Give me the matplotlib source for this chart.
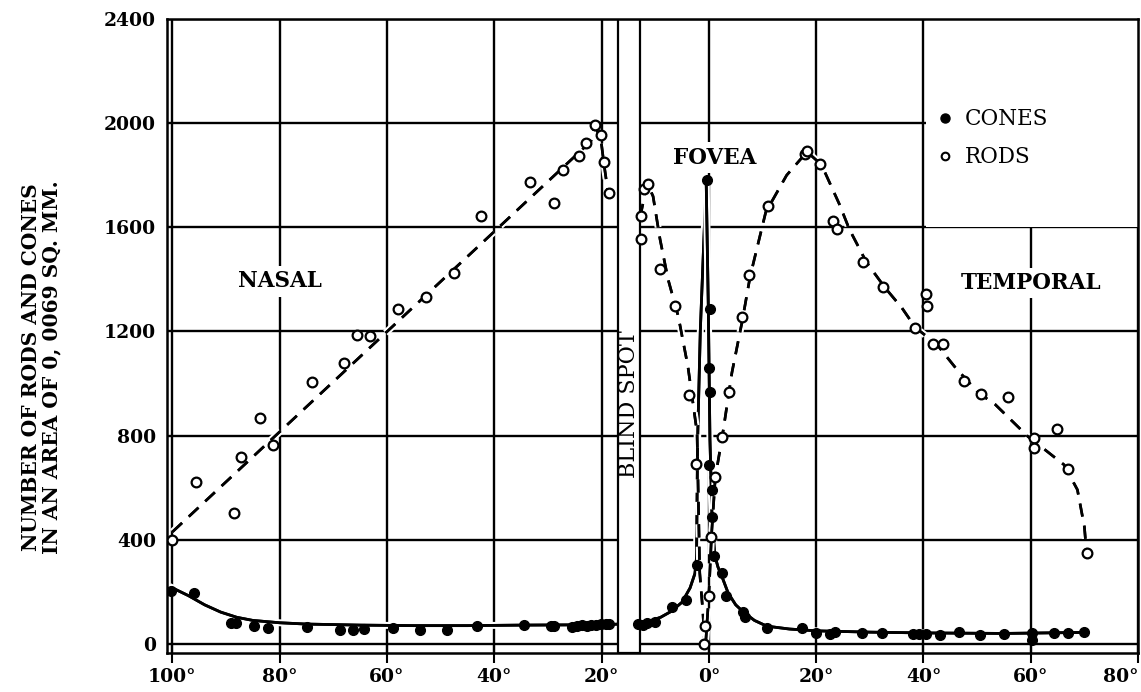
import matplotlib
matplotlib.use("Agg")
import matplotlib.pyplot as plt
import matplotlib.patheffects as pe
from matplotlib.lines import Line2D
from matplotlib.patches import Rectangle

plt.rcParams['font.family'] = ['DejaVu Serif']

# angle from fovea, nasal side negative (degrees)
cone_x = [-100.3, -96, -89, -88.2, -84.8, -82.2, -74.9, -68.8, -66.4, -64.2,
          -58.9, -53.8, -48.8, -43.3, -34.5, -29.5, -28.8, -25.5, -24.6, -23.7,
          -22.8, -21.9, -21, -20.1, -19.2, -18.6,
          -13.2, -12.3, -11.5, -10, -6.8, -4.2, -2.3,
          -0.4, 0.2, 0.0, 0.3, 0.1, 0.5, 0.6, 1.0, 2.4, 3.2, 6.4, 6.8, 10.8,
          17.4, 20, 22.6, 23.6, 28.5, 32.3, 38.1, 39.2, 40.4, 43, 46.6, 50.6,
          55.1, 60.2, 60.2, 64.3, 67, 70]
cone_y = [204, 196, 81, 81, 69, 62, 65, 54, 54, 58,
          62, 54, 54, 69, 73, 69, 69, 65, 70, 72,
          70, 73, 72, 75, 75, 77,
          78, 73, 80, 85, 140, 169, 302,
          1780, 1285, 1058, 969, 688, 592, 488, 338, 273, 185, 123, 104, 62,
          62, 42, 38, 46, 42, 42, 38, 38, 38, 35, 46, 35,
          38, 42, 15, 42, 42, 46]

rod_x = [-100, -95.6, -88.6, -87.3, -83.7, -81.3, -73.9, -68, -65.5, -63.1,
         -58, -52.8, -47.5, -42.4, -33.4, -28.8, -27.2, -24.2, -22.9, -21.3,
         -20.2, -19.6, -18.7,
         -12.1, -11.4, -12.7, -12.6, -9.2, -6.4, -3.7, -2.4, -0.7, -0.9,
         0.0, 0.4, 1.1, 2.5, 3.8, 6.2, 7.4, 11.0, 17.9, 18.3, 20.7, 23.2,
         23.9, 28.8, 32.5, 38.5, 40.4, 40.6, 41.7, 43.6, 47.5, 50.8, 55.8,
         60.6, 60.6, 64.9, 67, 70.4]
rod_y = [400, 620, 504, 719, 869, 762, 1004, 1077, 1185, 1181,
         1285, 1331, 1423, 1642, 1773, 1692, 1819, 1873, 1923, 1992,
         1954, 1850, 1731,
         1746, 1765, 1642, 1554, 1438, 1298, 954, 690, 69, 0,
         185, 412, 642, 796, 967, 1256, 1415, 1681, 1880, 1892, 1842, 1623,
         1592, 1465, 1369, 1213, 1342, 1296, 1150, 1150, 1008, 958, 950,
         792, 754, 827, 673, 350]

# fitted curves drawn through the points
cone_fit_left_x = [-100, -97, -94, -91, -88, -85, -80, -75, -65, -55, -45, -35,
                   -25, -18, -13.6, -11, -9, -7, -5, -3.5, -2.6, -2.3, -2.1,
                   -1.6, -0.5]
cone_fit_left_y = [215, 185, 150, 122, 102, 90, 81, 76, 72, 70, 70, 72,
                   73, 75, 78, 88, 102, 125, 160, 215, 270, 330, 780,
                   1200, 1780]
cone_fit_right_x = [-0.5, -0.1, 0.2, 0.6, 1.1, 1.7, 2.5, 3.6, 5, 6.4, 8.5,
                    10.8, 15, 20, 30, 40, 55, 70]
cone_fit_right_y = [1780, 1290, 785, 477, 340, 295, 255, 195, 150, 123, 90,
                    68, 57, 50, 45, 42, 40, 44]

rod_fit_nasal_x = [-100, -22, -21.3, -20.2, -19.6, -18.7]
rod_fit_nasal_y = [430, 1930, 1985, 1950, 1850, 1720]
rod_fit_left_x = [-12.8, -11.5, -10.4, -9.1, -7.6, -5.7, -3.9, -2.2, -1.7,
                  -1.1, -0.8]
rod_fit_left_y = [1640, 1770, 1719, 1554, 1400, 1258, 1065, 811, 273, 119, 0]
rod_fit_right_x = [-0.6, 0.0, 0.5, 1.2, 2.5, 4.3, 6.2, 7.7, 10.6, 14.5, 18.3,
                   21, 24.3, 26.2, 29.4, 32.8, 36, 38.5, 42.5, 45.8, 50.2,
                   53.4, 59.5, 63, 66.2, 68.7, 70, 70.4]
rod_fit_right_y = [0, 190, 420, 640, 796, 1042, 1238, 1412, 1658, 1800, 1890,
                   1840, 1690, 1592, 1465, 1369, 1290, 1215, 1150, 1065, 965,
                   919, 796, 740, 688, 592, 450, 350]

x_ticks = [-100, -80, -60, -40, -20, 0, 20, 40, 60, 80]
x_tick_labels = ['100°', '80°', '60°', '40°', '20°', '0°', '20°', '40°', '60°', '80°']
y_ticks = [0, 400, 800, 1200, 1600, 2000, 2400]
blind_spot = (-16.9, -12.9)

fig = plt.figure(figsize=(11.41, 6.92), dpi=100)
ax = fig.add_axes([0.1464, 0.0564, 0.851, 0.9161])

ax.set_xlim(-101, 80)
ax.set_ylim(-35, 2400)
ax.set_xticks(x_ticks)
ax.set_xticklabels(x_tick_labels)
ax.set_yticks(y_ticks)
ax.set_axisbelow(True)
ax.grid(True, color='black', lw=1.7)
for s in ax.spines.values():
    s.set_linewidth(1.8)
ax.tick_params(axis='x', direction='inout', length=14, width=1.5, labelsize=13.5, pad=4)
ax.tick_params(axis='y', length=0, labelsize=13.5, pad=8)
for lab in ax.get_xticklabels() + ax.get_yticklabels():
    lab.set_fontweight('bold')
ax.get_xticklabels()[-1].set_horizontalalignment('right')

cone_halo = [pe.withStroke(linewidth=5, foreground='white'), pe.Normal()]
rod_halo = [pe.withStroke(linewidth=5, foreground='white'), pe.Normal()]

# legend area blanks the grid
ax.add_patch(Rectangle((40.4, 1600), 39.6, 800, facecolor='white', edgecolor='none', zorder=1))

ax.plot(cone_fit_left_x, cone_fit_left_y, color='black', lw=2, zorder=2, path_effects=cone_halo)
ax.plot(cone_fit_right_x, cone_fit_right_y, color='black', lw=2, zorder=2, path_effects=cone_halo)
for fx, fy in [(rod_fit_nasal_x, rod_fit_nasal_y), (rod_fit_left_x, rod_fit_left_y),
               (rod_fit_right_x, rod_fit_right_y)]:
    ax.plot(fx, fy, color='black', lw=1.9, dashes=(5, 3.5), zorder=2.1, path_effects=rod_halo)

# blind spot band
ax.add_patch(Rectangle((blind_spot[0], -35), blind_spot[1] - blind_spot[0], 2435,
                       facecolor='white', edgecolor='black', lw=1.6, zorder=2.5))
ax.text(sum(blind_spot) / 2, 920, 'BLIND SPOT', rotation=90, ha='center', va='center',
        fontsize=16, zorder=2.6)

ax.plot(cone_x, cone_y, 'o', color='black', ms=7, zorder=3)
ax.plot(rod_x, rod_y, 'o', mfc='white', mec='black', mew=1.6, ms=7, zorder=3)

box = dict(facecolor='white', edgecolor='none', pad=3)
ax.text(-80, 1392, 'NASAL', ha='center', va='center', fontsize=15.5, fontweight='bold', bbox=box, zorder=2.5)
ax.text(60, 1385, 'TEMPORAL', ha='center', va='center', fontsize=15.5, fontweight='bold', bbox=box, zorder=2.5)
ax.text(1, 1868, 'FOVEA', ha='center', va='center', fontsize=15.5, fontweight='bold', bbox=box, zorder=2.5)

handles = [Line2D([], [], marker='o', color='black', ls='none', ms=6.5),
           Line2D([], [], marker='o', mfc='white', mec='black', mew=1.5, ls='none', ms=5.5)]
ax.legend(handles, ['CONES', 'RODS'], loc='upper left', bbox_to_anchor=(0.768, 0.89),
          frameon=False, fontsize=15.5, handletextpad=0.3, labelspacing=0.75, handlelength=1.2)

fig.text(0.036, 0.47, 'NUMBER OF RODS AND CONES\nIN AN AREA OF 0, 0069 SQ. MM.',
         rotation=90, ha='center', va='center', fontsize=14.5, fontweight='bold', linespacing=1.0)

fig.savefig('out.png', dpi=100)
